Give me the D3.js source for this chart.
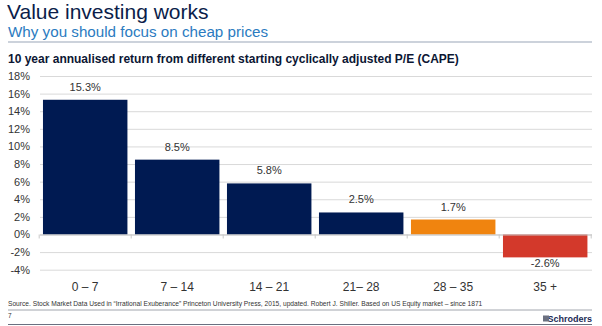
<!DOCTYPE html>
<html><head><meta charset="utf-8">
<script src="https://cdn.jsdelivr.net/npm/d3@7/dist/d3.min.js"></script>
<style>
body{margin:0;background:#fff;}
svg{display:block;font-family:Arial,"Liberation Sans",sans-serif;}
</style></head>
<body><svg id="c" width="602" height="326"></svg>
<script>
const categories = ["0 – 7","7 – 14","14 – 21","21– 28","28 – 35","35 +"];
const values = [15.3, 8.5, 5.8, 2.5, 1.7, -2.6];
const valueLabels = ["15.3%","8.5%","5.8%","2.5%","1.7%","-2.6%"];
const barColors = ["#001a52","#001a52","#001a52","#001a52","#f0840f","#d3392b"];
const yTicks = [-4,-2,0,2,4,6,8,10,12,14,16,18];

const svg = d3.select("#c");
// header
svg.append("text").attr("x",7).attr("y",19).attr("font-size",21).attr("fill","#0b1d4a").text("Value investing works");
svg.append("text").attr("x",8).attr("y",37.2).attr("font-size",15.2).attr("fill","#2b7bbf").text("Why you should focus on cheap prices");
svg.append("line").attr("x1",8).attr("x2",592).attr("y1",42).attr("y2",42).attr("stroke","#9aa5b8").attr("stroke-width",1.2);
svg.append("text").attr("x",8).attr("y",63).attr("font-size",12).attr("font-weight","bold").attr("fill","#0b1633").text("10 year annualised return from different starting cyclically adjusted P/E (CAPE)");

const x = d3.scaleBand().domain(categories).range([39.2,591.2]).paddingInner(0.082).paddingOuter(0.041);
const y = d3.scaleLinear().domain([-4,18]).range([269.7,76]);

const g = svg.append("g");
g.selectAll("line.grid").data(yTicks).join("line").attr("class","grid")
  .attr("x1",40).attr("x2",592).attr("y1",d=>y(d)+0.5).attr("y2",d=>y(d)+0.5)
  .attr("stroke","#d9d9d9").attr("stroke-width",1);
g.selectAll("text.yt").data(yTicks).join("text").attr("class","yt")
  .attr("x",30).attr("y",d=>y(d)+4).attr("text-anchor","end").attr("font-size",11).attr("fill","#333")
  .text(d=>d+"%");

// bars
g.selectAll("rect.bar").data(values).join("rect").attr("class","bar")
  .attr("x",(d,i)=>x(categories[i])).attr("width",x.bandwidth())
  .attr("y",d=>y(Math.max(0,d))).attr("height",d=>Math.abs(y(d)-y(0)))
  .attr("fill",(d,i)=>barColors[i]);

// zero axis & ticks
g.append("line").attr("x1",40).attr("x2",592).attr("y1",y(0)+0.5).attr("y2",y(0)+0.5).attr("stroke","#c8c8c8");
const step = x.step();
g.selectAll("line.tk").data(d3.range(7)).join("line").attr("class","tk")
  .attr("x1",d=>39.2+d*step).attr("x2",d=>39.2+d*step).attr("y1",y(0)).attr("y2",y(0)+4).attr("stroke","#c8c8c8");

// value labels
g.selectAll("text.vl").data(values).join("text").attr("class","vl")
  .attr("x",(d,i)=>x(categories[i])+x.bandwidth()/2)
  .attr("y",d=> d>=0 ? y(d)-9 : y(d)+10)
  .attr("text-anchor","middle").attr("font-size",11).attr("fill","#333")
  .text((d,i)=>valueLabels[i]);

// category labels
g.selectAll("text.cl").data(categories).join("text").attr("class","cl")
  .attr("x",d=>x(d)+x.bandwidth()/2).attr("y",291)
  .attr("text-anchor","middle").attr("font-size",12).attr("fill","#333").text(d=>d);

// footer
svg.append("text").attr("x",8).attr("y",306).attr("font-size",6.65).attr("fill","#333")
  .text("Source. Stock Market Data Used in “Irrational Exuberance” Princeton University Press, 2015, updated. Robert J. Shiller. Based on US Equity market – since 1871");
svg.append("line").attr("x1",8).attr("x2",592).attr("y1",310).attr("y2",310).attr("stroke","#8a8f99").attr("stroke-width",0.8);
svg.append("text").attr("x",8).attr("y",318).attr("font-size",6.5).attr("fill","#333").text("7");
svg.append("line").attr("x1",8).attr("x2",592).attr("y1",324.5).attr("y2",324.5).attr("stroke","#6a7080").attr("stroke-width",1);
svg.append("text").attr("x",592).attr("y",322).attr("text-anchor","end").attr("font-size",9).attr("font-weight","bold").attr("fill","#1b2a55").text("Schroders");
svg.append("rect").attr("x",543).attr("y",315.5).attr("width",6).attr("height",6).attr("fill","#6b7080");
</script></body></html>
